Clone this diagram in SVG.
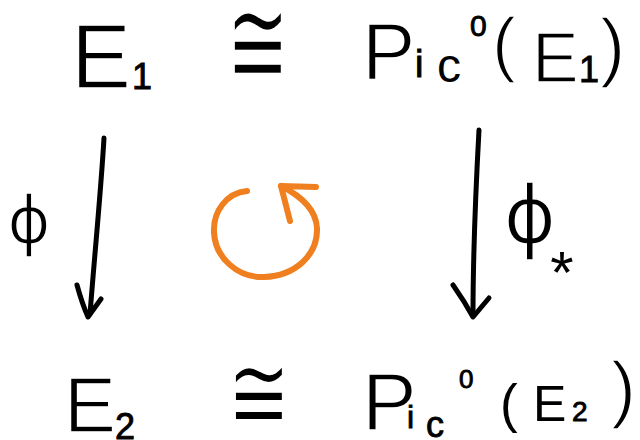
<svg xmlns="http://www.w3.org/2000/svg" width="640" height="440" viewBox="0 0 640 440">
<style>
.t{font-family:"Liberation Sans","DejaVu Sans",sans-serif;fill:#000}
.g{font-family:"DejaVu Sans","Liberation Sans",sans-serif;fill:#000}
.thin{stroke:#fff;stroke-width:1.6}
.bold{stroke:#000;stroke-width:0.9}
.ln{fill:none;stroke:#000;stroke-width:5;stroke-linecap:round;stroke-linejoin:round}
.or{fill:none;stroke:#ef7f1f;stroke-width:6;stroke-linecap:round;stroke-linejoin:round}
</style>
<rect width="640" height="440" fill="#fff"/>
<g id="E1">
<text class="t"><tspan class="thin" x="71" y="88" font-size="90">E</tspan><tspan class="bold" x="132" y="89" font-size="36">1</tspan></text>
</g>
<g id="iso1">
<text class="g thin" font-size="90" text-anchor="middle" stroke-width="2.2" transform="translate(258,85) scale(0.84,1.39)">≅</text>
</g>
<g id="Pic1">
<text class="t"><tspan class="thin" x="362" y="79" font-size="80">P</tspan><tspan class="bold" x="415" y="77" font-size="38">i</tspan><tspan x="437" y="82" font-size="48">c</tspan><tspan class="bold" x="470" y="36" font-size="30">0</tspan><tspan class="thin" x="492" y="68" font-size="72">(</tspan><tspan class="thin" x="532" y="82" font-size="70">E</tspan><tspan class="bold" x="579" y="82" font-size="36">1</tspan><tspan class="thin" x="600" y="72" font-size="76">)</tspan></text>
</g>
<g id="E2">
<text class="t"><tspan class="thin" x="64" y="432" font-size="78">E</tspan><tspan class="bold" x="115" y="439" font-size="36">2</tspan></text>
</g>
<g id="iso2">
<text class="g thin" font-size="90" text-anchor="middle" stroke-width="2.2" transform="translate(259,430) scale(0.84,1.2)">≅</text>
</g>
<g id="Pic2">
<text class="t"><tspan class="thin" x="362" y="430" font-size="82">P</tspan><tspan class="bold" x="407" y="428" font-size="32">i</tspan><tspan class="bold" x="426" y="437" font-size="36">c</tspan><tspan class="bold" x="459" y="388" font-size="26">0</tspan><tspan x="500" y="422" font-size="53">(</tspan><tspan x="533" y="421" font-size="50">E</tspan><tspan class="bold" x="572" y="421" font-size="28">2</tspan><tspan class="thin" x="611" y="414" font-size="75">)</tspan></text>
</g>
<g id="connectors">
<path class="ln" d="M104,138 C101,190 95,250 90,314"/>
<path class="ln" d="M77,285 C80,296 84,308 88,317 L101,299"/>
<path class="ln" d="M479,130 C476,185 473,250 473,316"/>
<path class="ln" d="M453,285 C460,295 467,306 473,317 L489,298"/>
</g>
<g id="phi">
<text class="g thin" x="29" y="243" font-size="66" text-anchor="middle">ϕ</text>
</g>
<g id="phistar">
<text class="g" x="530" y="243" font-size="80" text-anchor="middle"><tspan class="thin">ϕ</tspan><tspan class="t" x="562" y="293" font-size="60">*</tspan></text>
</g>
<g id="commute">
<path class="or" d="M247,191 C226,193 213,212 214,232 C215,258 238,278 264,277 C295,276 318,255 317,228 C316,210 301,196 281,186"/>
<path class="or" d="M316,187 L281,186 L290,221"/>
</g>
</svg>
